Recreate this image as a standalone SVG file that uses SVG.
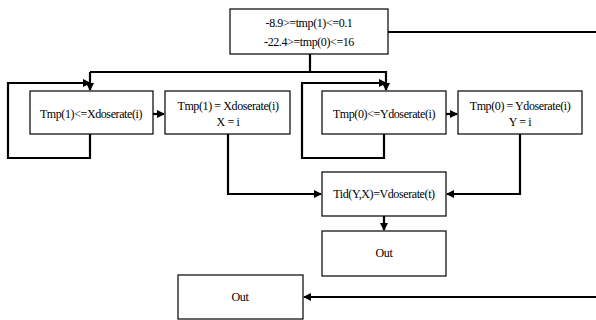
<svg xmlns="http://www.w3.org/2000/svg" width="596" height="320" viewBox="0 0 596 320">
<defs>
<marker id="ah" markerWidth="8" markerHeight="8" refX="7" refY="4" orient="auto" markerUnits="userSpaceOnUse">
<path d="M0,0 L8,4 L0,8 Z" fill="#000"/>
</marker>
<style>
.box{fill:#fff;stroke:#000;stroke-width:1.2}
.t{font-family:"Liberation Serif",serif;font-size:12px;fill:#000;text-anchor:middle;letter-spacing:-0.4px}
.c{fill:none;stroke:#000;stroke-width:2.2}
.ca{fill:none;stroke:#000;stroke-width:2.2;marker-end:url(#ah)}
</style>
</defs>
<rect width="596" height="320" fill="#fff"/>
<g id="connectors">
<path class="c" d="M388,32 H596"/>
<path class="c" d="M310,54 V72 H90"/>
<path class="ca" d="M90,72 V90"/>
<path class="ca" d="M310,72 H386 V90"/>
<path class="ca" d="M90,134 V158 H8 V83 H90"/>
<path class="ca" d="M384,134 V158 H302 V83 H386"/>
<path class="ca" d="M153,114 H164"/>
<path class="ca" d="M446,114 H457"/>
<path class="ca" d="M228,134 V194 H321"/>
<path class="ca" d="M520,134 V194 H447"/>
<path class="ca" d="M384,216 V230"/>
<path class="ca" d="M596,297 H304"/>
</g>
<g id="n0">
<rect class="box" x="230" y="9" width="158" height="45"/>
<text class="t" x="309" y="27">-8.9&gt;=tmp(1)&lt;=0.1</text>
<text class="t" x="309" y="46">-22.4&gt;=tmp(0)&lt;=16</text>
</g>
<g id="n1">
<rect class="box" x="30" y="91" width="123" height="43"/>
<text class="t" x="91" y="118">Tmp(1)&lt;=Xdoserate(i)</text>
</g>
<g id="n2">
<rect class="box" x="165" y="91" width="125" height="43"/>
<text class="t" x="228" y="110">Tmp(1) = Xdoserate(i)</text>
<text class="t" x="228" y="126">X = i</text>
</g>
<g id="n3">
<rect class="box" x="322" y="91" width="124" height="43"/>
<text class="t" x="384" y="118">Tmp(0)&lt;=Ydoserate(i)</text>
</g>
<g id="n4">
<rect class="box" x="458" y="91" width="124" height="43"/>
<text class="t" x="520" y="110">Tmp(0) = Ydoserate(i)</text>
<text class="t" x="520" y="126">Y = i</text>
</g>
<g id="n5">
<rect class="box" x="322" y="172" width="124" height="44"/>
<text class="t" x="384" y="198">Tid(Y,X)=Vdoserate(t)</text>
</g>
<g id="n6">
<rect class="box" x="322" y="231" width="124" height="45"/>
<text class="t" x="384" y="257">Out</text>
</g>
<g id="n7">
<rect class="box" x="178" y="275" width="125" height="44"/>
<text class="t" x="240" y="301">Out</text>
</g>
</svg>
